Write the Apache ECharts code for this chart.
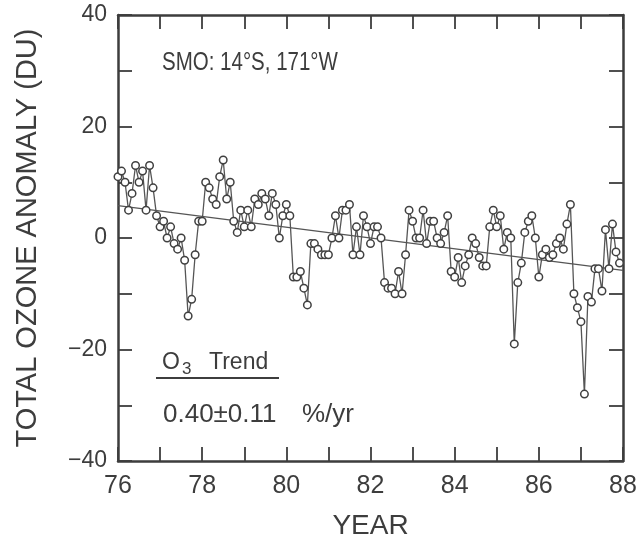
<!DOCTYPE html>
<html>
<head>
<meta charset="utf-8">
<script src="https://cdn.jsdelivr.net/npm/echarts@6/dist/echarts.min.js"></script>
<style>
  html, body { margin: 0; padding: 0; background: #fff; }
  #chart { width: 641px; height: 545px; }
</style>
</head>
<body>
<div id="chart"></div>
<script>
// monthly total ozone anomaly (DU), Jan 1976 .. Dec 1987
const startYear = 76;
const anomaly76 = [11, 12, 10, 5, 8, 13, 10, 12, 5, 13, 9, 4];
const anomaly77 = [2, 3, 0, 2, -1, -2, 0, -4, -14, -11, -3, 3];
const anomaly78 = [3, 10, 9, 7, 6, 11, 14, 7, 10, 3, 1, 5];
const anomaly79 = [2, 5, 2, 7, 6, 8, 7, 4, 8, 6, 0, 4];
const anomaly80 = [6, 4, -7, -7, -6, -9, -12, -1, -1, -2, -3, -3];
const anomaly81 = [-3, 0, 4, 0, 5, 5, 6, -3, 2, -3, 4, 2];
const anomaly82 = [-1, 2, 2, 0, -8, -9, -9, -10, -6, -10, -3, 5];
const anomaly83 = [3, 0, 0, 5, -1, 3, 3, 0, -1, 1, 4, -6];
const anomaly84 = [-7, -3.5, -8, -5, -3, 0, -1, -3.5, -5, -5, 2, 5];
const anomaly85 = [2, 4, -2, 1, 0, -19, -8, -4.5, 1, 3, 4, 0];
const anomaly86 = [-7, -3, -2, -3.5, -3, -1, 0, -2, 2.5, 6, -10, -12.5];
const anomaly87 = [-15, -28, -10.5, -11.5, -5.5, -5.5, -9.5, 1.5, -5.5, 2.5, -2.5, -4.5];

const trendLine = [[76, 5.8], [88, -5.8]];

const yearTicks = [76, 78, 80, 82, 84, 86, 88];
const anomalyTicks = [-40, -20, 0, 20, 40];

const allValues = [].concat(anomaly76, anomaly77, anomaly78, anomaly79, anomaly80, anomaly81,
  anomaly82, anomaly83, anomaly84, anomaly85, anomaly86, anomaly87);
const ozoneData = allValues.map((v, i) => [startYear + i / 12, v]);

const ink = '#3d3d3d';
const font = '"Liberation Sans", Arial, Helvetica, sans-serif';

const frameLine = { show: true, onZero: false, lineStyle: { color: ink, width: 2.5 } };
const inTick = { show: true, inside: true, length: 14, lineStyle: { color: ink, width: 1.8 } };

const chart = echarts.init(document.getElementById('chart'), null, { renderer: 'canvas' });

chart.setOption({
  animation: false,
  grid: { left: 118, right: 18, top: 15, bottom: 83 },
  xAxis: [
    {
      type: 'value', min: 76, max: 88, interval: 1, position: 'bottom',
      axisLine: frameLine, axisTick: inTick, splitLine: { show: false },
      axisLabel: {
        showMinLabel: true, showMaxLabel: true, margin: 13,
        color: ink, fontSize: 25, fontFamily: font,
        formatter: v => (yearTicks.includes(v) ? String(v) : '')
      },
      name: 'YEAR', nameLocation: 'middle', nameGap: 51,
      nameTextStyle: { color: ink, fontSize: 28, fontFamily: font }
    },
    {
      type: 'value', min: 76, max: 88, interval: 1, position: 'top',
      axisLine: frameLine, axisTick: inTick, splitLine: { show: false },
      axisLabel: { show: false }
    }
  ],
  yAxis: [
    {
      type: 'value', min: -40, max: 40, interval: 10, position: 'left',
      axisLine: frameLine, axisTick: inTick, splitLine: { show: false },
      axisLabel: {
        showMinLabel: true, showMaxLabel: true, margin: 11,
        color: ink, fontSize: 23, fontFamily: font,
        formatter: v => (anomalyTicks.includes(v) ? String(v).replace('-', '\u2212') : '')
      },
      name: 'TOTAL OZONE ANOMALY (DU)', nameLocation: 'middle', nameGap: 76, nameRotate: 90,
      nameTextStyle: { color: ink, fontSize: 29, fontFamily: font }
    },
    {
      type: 'value', min: -40, max: 40, interval: 10, position: 'right',
      axisLine: frameLine, axisTick: inTick, splitLine: { show: false },
      axisLabel: { show: false }
    }
  ],
  series: [
    {
      type: 'line',
      data: trendLine,
      symbol: 'none',
      lineStyle: { color: '#555', width: 1.3 },
      z: 2
    },
    {
      type: 'line',
      data: ozoneData,
      symbol: 'circle',
      symbolSize: 7.5,
      showAllSymbol: true,
      lineStyle: { color: '#555', width: 1.3 },
      itemStyle: { color: '#fff', borderColor: '#404040', borderWidth: 1.5 },
      z: 3
    }
  ],
  graphic: [
    {
      type: 'text', x: 162, y: 50, scaleY: 1.25,
      style: { text: 'SMO: 14°S, 171°W', fill: ink, font: '20.5px ' + font }
    },
    {
      type: 'text', x: 162, y: 351,
      style: { text: 'O', fill: ink, font: '23px ' + font }
    },
    {
      type: 'text', x: 182, y: 361,
      style: { text: '3', fill: ink, font: '17px ' + font }
    },
    {
      type: 'text', x: 209, y: 351,
      style: { text: 'Trend', fill: ink, font: '23px ' + font }
    },
    {
      type: 'line',
      shape: { x1: 156, y1: 378, x2: 279, y2: 378 },
      style: { stroke: ink, lineWidth: 2 }
    },
    {
      type: 'text', x: 163, y: 402,
      style: { text: '0.40\u00b10.11', fill: ink, font: '26px ' + font }
    },
    {
      type: 'text', x: 302, y: 402,
      style: { text: '%/yr', fill: ink, font: '26px ' + font }
    }
  ]
});
</script>
</body>
</html>
